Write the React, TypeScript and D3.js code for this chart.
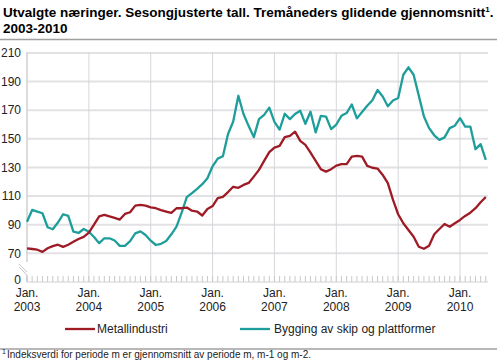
import React from "react";
import * as d3 from "d3";

const W = 497;
const H = 360;

const yearLabels = ["2003", "2004", "2005", "2006", "2007", "2008", "2009", "2010"];
const yTicks = [70, 90, 110, 130, 150, 170, 190, 210];

const metall = [
  73.5, 73, 72.5, 71, 73.5, 75, 76, 74.5, 76, 78, 80, 81.5,
  84.5, 90, 95.8, 96.9, 95.8, 94.8, 93.6, 97.5, 98.7, 103.3, 103.9, 103.3,
  102.1, 101.5, 100.2, 99.2, 98.2, 101.5, 101.5, 102, 99.8, 99.2, 96.4, 101,
  103, 108.6, 109.4, 112.8, 116.5, 115.8, 117.8, 119.2, 123.6, 128.3, 134.6, 140.7,
  143.9, 145.1, 151.2, 152.1, 155, 148.6, 145.8, 140.4, 134.6, 128.8, 127.1, 128.8,
  131.3, 132.3, 132.3, 137.6, 138.1, 137.6, 131.1, 129.8, 129.2, 124.8, 119, 107.3,
  97.3, 91, 86.3, 81.6, 74.6, 73.2, 75.3, 83.3, 87, 90.5, 88.6, 91,
  93.3, 96.1, 98.4, 101.5, 105.7, 109.4,
];

const skip = [
  92, 100.3, 99.1, 98, 88.2, 86.8, 91.5, 97.3, 96.2, 85.1, 84.2, 87,
  85.1, 81.4, 77.1, 80.5, 80.5, 78.9, 75.2, 75.2, 78.5, 83.9, 85.3, 82.8,
  78.8, 75.8, 76.6, 78.6, 83.3, 88.6, 98.4, 109.2, 112, 115, 118.3, 122.5,
  130.8, 136.2, 137.8, 153.4, 162.1, 180.1, 167.4, 158.9, 151.2, 163.8, 166.8, 171.8,
  161.8, 156.5, 167.5, 163.8, 167.4, 169.7, 160.5, 168.9, 154.5, 166.1, 165.6, 156.8,
  160, 166.1, 168, 174, 164.3, 168.7, 173.1, 177, 184.1, 179.6, 172.8, 176.8,
  178.5, 194.8, 200, 194.8, 180.2, 165.6, 157.5, 152.5, 149.3, 151, 157.5, 159.2,
  164.5, 158.6, 158.6, 142.8, 146.3, 135.3,
];

const seriesNames = ["Metallindustri", "Bygging av skip og plattformer"];
const colors = ["#9e1b26", "#1e9e9a"];

const FONT = "'Liberation Sans', Arial, Helvetica, sans-serif";

export default function App() {
  const left = 27;
  const monthW = 5.155;
  const right = 488;

  const x = d3
    .scaleLinear()
    .domain([0, (right - left) / monthW])
    .range([left, right]);
  const y = d3.scaleLinear().domain([0, 70, 210]).range([282, 253.3, 53]);

  const line = d3
    .line<number>()
    .x((_, i) => x(i))
    .y((d) => y(d))
    .curve(d3.curveLinear);

  const monthTicks = d3.range(0, Math.floor((right - left) / monthW) + 1);
  const janTicks = yearLabels.map((_, i) => i * 12);

  return (
    <svg
      width={W}
      height={H}
      style={{ position: "absolute", left: 0, top: 0, background: "#fff" }}
      fontFamily={FONT}
    >
      {/* Title */}
      <text x={3} y={17} fontSize={13.5} fontWeight="bold" fill="#000">
        Utvalgte næringer. Sesongjusterte tall. Tremåneders glidende gjennomsnitt
        <tspan fontSize={8} dy={-5}>1</tspan>
        <tspan dy={5}>.</tspan>
      </text>
      <text x={3} y={33} fontSize={13.5} fontWeight="bold" fill="#000">
        2003-2010
      </text>
      <line x1={0} x2={W} y1={39.5} y2={39.5} stroke="#a0a0a0" strokeWidth={1.5} />

      {/* Horizontal grid */}
      {yTicks.map((t) => (
        <line key={"h" + t} x1={left} x2={right} y1={y(t)} y2={y(t)} stroke="#e2e2e4" strokeWidth={2} />
      ))}
      {/* Vertical Jan grid */}
      {janTicks.slice(1).map((m) => (
        <line key={"v" + m} x1={x(m)} x2={x(m)} y1={y(210) - 1} y2={282} stroke="#d7d7dc" strokeWidth={1} />
      ))}
      {/* Y axis line with break */}
      <line x1={left} x2={left} y1={y(210) - 1} y2={262} stroke="#d0d0d5" strokeWidth={1.5} />
      <line x1={left} x2={left} y1={275} y2={282} stroke="#d0d0d5" strokeWidth={1.5} />
      <line x1={19} x2={27} y1={264} y2={272} stroke="#c8c8cc" strokeWidth={1} />
      <line x1={19} x2={27} y1={267} y2={275} stroke="#c8c8cc" strokeWidth={1} />

      {/* Month ticks */}
      {monthTicks.map((m) => (
        <line key={"m" + m} x1={x(m)} x2={x(m)} y1={276} y2={282} stroke="#c8c8cc" strokeWidth={1} />
      ))}
      <line x1={left} x2={right} y1={282} y2={282} stroke="#d0d0d5" strokeWidth={1} />

      {/* Y tick labels */}
      {yTicks.map((t) => (
        <text key={"yl" + t} x={21} y={y(t)} dy="0.35em" textAnchor="end" fontSize={12} fill="#222">
          {t}
        </text>
      ))}
      <text x={21} y={280} dy="0.35em" textAnchor="end" fontSize={12} fill="#222">
        0
      </text>

      {/* X labels */}
      {janTicks.map((m, i) => (
        <g key={"xl" + m}>
          <text x={x(m)} y={296.5} textAnchor="middle" fontSize={12} fill="#222">
            Jan.
          </text>
          <text x={x(m)} y={310.5} textAnchor="middle" fontSize={12} fill="#222">
            {yearLabels[i]}
          </text>
        </g>
      ))}

      {/* Lines */}
      <path d={line(skip) || ""} fill="none" stroke={colors[1]} strokeWidth={2.3} strokeLinejoin="round" />
      <path d={line(metall) || ""} fill="none" stroke={colors[0]} strokeWidth={2.3} strokeLinejoin="round" />

      {/* Legend */}
      <line x1={65} x2={95} y1={329} y2={329} stroke={colors[0]} strokeWidth={2.3} />
      <text x={97} y={333} fontSize={12} fill="#222">{seriesNames[0]}</text>
      <line x1={240} x2={270} y1={329} y2={329} stroke={colors[1]} strokeWidth={2.3} />
      <text x={274} y={333} fontSize={12} fill="#222">{seriesNames[1]}</text>

      {/* Footnote */}
      <line x1={0} x2={W} y1={349} y2={349} stroke="#a0a0a0" strokeWidth={1.5} />
      <text x={2} y={354} fontSize={7} fill="#222">1</text>
      <text x={7} y={358} fontSize={10} fill="#222">
        Indeksverdi for periode m er gjennomsnitt av periode m, m-1 og m-2.
      </text>
    </svg>
  );
}
